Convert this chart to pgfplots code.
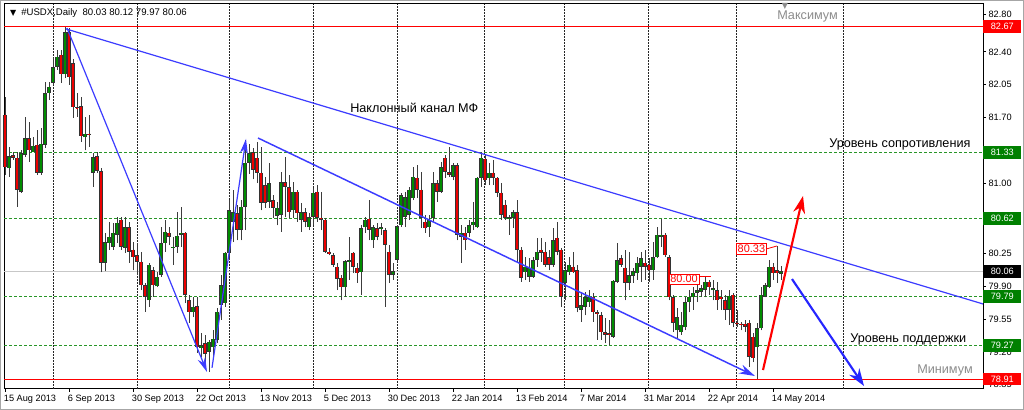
\documentclass[border=0pt]{standalone}
\usepackage{pgfplots}
\pgfplotsset{compat=1.18}
\usepackage{pgfplotstable}
\usepackage{fontspec}
\setmainfont{Liberation Sans}
\newfontfamily\dejavu{DejaVu Sans}
\usetikzlibrary{arrows.meta}

\definecolor{bull}{RGB}{0,140,0}
\definecolor{bear}{RGB}{235,0,0}
\definecolor{lvl}{RGB}{40,150,40}
\definecolor{lvlbox}{RGB}{0,128,0}
\definecolor{chan}{RGB}{60,60,255}
\definecolor{wick}{RGB}{60,60,60}

\pgfplotstableread{
x o h l c
1 81.16 81.39 81.07 81.29
4 80.91 81.35 80.90 81.32
5 81.30 81.71 81.28 81.48
7 81.33 81.49 81.33 81.40
9 81.11 81.59 81.09 81.42
10 81.41 82.08 81.38 81.96
11 81.96 82.08 81.89 82.03
12 82.07 82.34 82.05 82.24
13 82.24 82.42 82.21 82.35
15 82.16 82.67 82.12 82.61
20 81.49 81.71 81.35 81.53
22 81.11 81.32 80.96 81.28
25 80.15 80.47 80.06 80.37
26 80.36 80.59 80.29 80.43
27 80.32 80.58 80.29 80.47
28 80.45 80.64 80.36 80.58
30 80.31 80.64 80.26 80.53
36 79.75 80.15 79.68 80.13
38 79.90 80.05 79.89 80.00
39 80.02 80.53 80.00 80.36
40 80.36 80.61 80.27 80.48
42 80.31 80.43 80.13 80.32
43 80.32 80.69 80.26 80.44
44 80.45 80.75 80.32 80.47
47 79.62 79.79 79.57 79.68
49 79.24 79.40 79.15 79.27
51 79.20 79.33 78.99 79.31
52 79.25 79.43 79.11 79.34
53 79.33 79.67 79.29 79.63
54 79.70 80.02 79.54 79.91
55 79.72 80.27 79.68 80.26
56 80.26 80.82 80.18 80.71
57 80.59 80.93 80.37 80.69
59 80.50 80.82 80.39 80.75
60 80.75 81.46 80.50 81.22
61 81.22 81.42 81.10 81.32
66 80.80 81.22 80.74 81.00
68 80.65 80.80 80.55 80.74
69 80.66 81.12 80.48 81.01
72 80.71 81.01 80.63 80.91
74 80.61 80.79 80.48 80.69
76 80.53 80.68 80.50 80.64
77 80.64 80.95 80.55 80.90
85 79.89 80.18 79.79 80.17
86 80.16 80.43 79.97 80.18
89 80.05 80.55 79.81 80.52
90 80.53 80.64 80.47 80.61
92 80.39 80.55 80.31 80.53
94 80.51 80.58 80.45 80.53
97 80.02 80.15 79.97 80.06
98 80.18 80.55 80.16 80.54
99 80.55 80.90 80.53 80.87
100 80.64 80.91 80.53 80.85
101 80.66 80.96 80.61 80.93
102 80.84 81.17 80.82 81.07
106 80.53 80.66 80.43 80.61
107 80.63 81.12 80.59 81.00
109 80.91 81.23 80.90 81.17
112 81.07 81.22 81.03 81.19
114 80.43 80.55 80.15 80.47
116 80.47 80.61 80.43 80.55
117 80.55 80.80 80.50 80.59
118 80.53 81.07 80.52 81.06
119 81.06 81.33 80.96 81.27
121 81.05 81.22 80.98 81.11
126 80.62 80.66 80.45 80.64
127 80.63 80.71 80.52 80.69
130 80.05 80.21 79.97 80.11
131 80.00 80.20 79.95 80.10
132 80.00 80.21 79.99 80.18
133 80.18 80.42 80.11 80.27
137 80.13 80.52 80.11 80.39
140 79.94 80.16 79.75 80.07
141 80.05 80.21 80.02 80.13
144 79.65 79.83 79.52 79.70
145 79.68 79.84 79.59 79.78
146 79.73 79.86 79.68 79.79
152 79.36 79.97 79.35 79.96
153 79.95 80.36 79.94 80.18
156 79.94 80.27 79.86 80.02
157 80.01 80.10 79.94 80.06
158 80.04 80.21 79.97 80.15
159 80.11 80.27 79.95 80.20
162 80.07 80.37 79.97 80.21
163 80.21 80.53 80.20 80.45
164 80.43 80.62 80.32 80.45
168 79.43 79.67 79.35 79.57
169 79.41 79.63 79.38 79.49
170 79.46 79.78 79.43 79.73
171 79.73 79.86 79.62 79.79
172 79.78 79.89 79.65 79.83
173 79.83 79.95 79.73 79.86
174 79.84 79.91 79.79 79.88
175 79.86 80.00 79.78 79.95
177 79.86 79.97 79.75 79.88
181 79.65 79.86 79.49 79.80
188 79.25 79.51 78.91 79.45
189 79.45 79.89 79.43 79.81
190 79.79 79.94 79.78 79.91
191 79.89 80.18 79.88 80.11
194 80.03 80.12 79.97 80.06
}\bulltab

\pgfplotstableread{
x o h l c
0 81.73 81.92 81.09 81.17
2 81.30 81.33 81.25 81.27
3 81.27 81.33 80.75 80.93
6 81.48 81.65 81.23 81.35
8 81.41 81.57 81.09 81.11
14 82.37 82.42 82.07 82.16
16 82.61 82.66 82.05 82.13
17 82.28 82.32 81.70 81.81
18 81.81 81.96 81.71 81.80
19 81.82 81.92 81.44 81.50
21 81.53 81.73 81.39 81.51
23 81.29 81.33 81.11 81.13
24 81.13 81.16 80.05 80.15
29 80.61 80.64 80.29 80.32
31 80.53 80.59 80.15 80.27
32 80.29 80.37 80.07 80.21
33 80.23 80.36 80.02 80.16
34 80.16 80.27 79.86 79.91
35 79.91 79.94 79.63 79.79
37 80.07 80.11 79.79 79.91
41 80.47 80.53 80.34 80.43
45 80.47 80.48 79.72 79.81
46 79.75 79.81 79.51 79.62
48 79.69 79.79 79.19 79.25
50 79.29 79.38 79.08 79.18
58 80.68 80.77 80.39 80.50
62 81.33 81.38 81.04 81.14
63 81.27 81.44 81.00 81.11
64 81.11 81.39 80.71 80.79
65 80.98 81.07 80.74 80.79
67 80.82 80.87 80.63 80.74
70 81.01 81.28 80.64 80.96
71 80.96 81.09 80.63 80.69
73 80.91 80.93 80.59 80.68
75 80.69 80.74 80.53 80.59
78 80.91 80.98 80.59 80.63
79 80.63 80.91 80.50 80.61
80 80.61 80.63 80.26 80.27
81 80.27 80.31 80.23 80.24
82 80.23 80.26 80.11 80.13
83 80.11 80.15 79.86 79.98
84 79.99 80.02 79.75 79.89
87 80.26 80.27 80.04 80.11
88 80.10 80.15 79.94 80.04
91 80.62 80.82 80.39 80.50
93 80.52 80.58 80.39 80.43
95 80.50 80.52 79.68 80.34
96 80.27 80.34 79.94 80.02
103 81.06 81.19 80.84 80.93
104 80.93 81.12 80.52 80.63
105 80.59 80.66 80.47 80.52
108 81.00 81.03 80.80 80.91
110 81.27 81.30 81.06 81.12
111 81.12 81.39 81.07 81.09
113 81.19 81.22 80.39 80.45
115 80.47 80.53 80.29 80.39
120 81.26 81.30 80.98 81.03
122 81.11 81.25 80.98 81.06
123 81.06 81.07 80.85 80.90
124 80.90 81.00 80.61 80.66
125 80.77 80.82 80.61 80.63
128 80.69 80.82 80.15 80.29
129 80.29 80.32 79.95 79.99
134 80.29 80.42 80.16 80.26
135 80.27 80.37 80.11 80.13
136 80.21 80.29 80.07 80.13
138 80.42 80.59 80.23 80.27
139 80.29 80.31 79.68 79.79
142 80.11 80.27 80.04 80.05
143 80.07 80.13 79.62 79.67
147 79.79 79.83 79.52 79.62
148 79.62 79.65 79.33 79.60
149 79.59 79.62 79.33 79.41
150 79.41 79.56 79.29 79.38
151 79.40 79.54 79.27 79.38
154 80.20 80.23 80.11 80.13
155 80.10 80.29 79.75 79.94
160 80.15 80.29 79.97 80.11
161 80.13 80.20 79.95 80.07
165 80.45 80.47 80.21 80.23
166 80.21 80.23 79.75 79.78
167 79.78 79.81 79.41 79.51
176 79.95 79.97 79.81 79.89
178 79.86 79.95 79.65 79.75
179 79.79 79.86 79.65 79.76
180 79.75 79.81 79.54 79.65
182 79.81 79.83 79.46 79.51
183 79.51 79.65 79.46 79.50
184 79.50 79.52 79.43 79.49
185 79.50 79.54 79.41 79.47
186 79.51 79.54 79.04 79.15
187 79.36 79.40 79.09 79.13
192 80.11 80.15 79.97 80.04
193 80.07 80.33 79.94 80.04
}\beartab

\begin{document}
\begin{tikzpicture}
\useasboundingbox (-3pt,-15.75pt) rectangle (765pt,291.75pt);
\fill[white] (-3pt,-15.75pt) rectangle (765pt,291.75pt);
\draw[black!35, line width=0.75pt] (-2.6pt,-15.35pt) rectangle (764.6pt,291.35pt);
\begin{axis}[
  at={(0pt,0pt)}, anchor=south west,
  scale only axis,
  width=734.25pt, height=288.75pt,
  xmin=-0.25, xmax=244.5,
  ymin=78.8036, ymax=82.912,
  clip=false,
  axis line style={black, line width=0.75pt},
  xtick pos=bottom, ytick pos=right,
  tick align=outside,
  major tick length=2pt,
  major tick style={black, line width=0.75pt},
  xtick={0,16,32,48,64,80,96,112,128,144,160,176,192},
  xticklabels={15 Aug 2013, 6 Sep 2013, 30 Sep 2013, 22 Oct 2013, 13 Nov 2013, 5 Dec 2013, 30 Dec 2013, 22 Jan 2014, 13 Feb 2014, 7 Mar 2014, 31 Mar 2014, 22 Apr 2014, 14 May 2014},
  xticklabel style={anchor=north west, inner sep=0pt, xshift=-1pt, yshift=-2.5pt, font=\fontsize{6.9}{8}\selectfont},
  ytick={78.85,79.20,79.55,79.90,80.25,81.00,81.70,82.05,82.40,82.80},
  yticklabel pos=right,
  /pgf/number format/assume math mode=true,
  yticklabel style={/pgf/number format/.cd, fixed, fixed zerofill, precision=2, /tikz/.cd, anchor=west, inner sep=0pt, xshift=2pt, font=\fontsize{6.9}{8}\selectfont},
  scaled y ticks=false,
]
% period separators
\pgfplotsinvokeforeach{12,33,56,77,98,119.75,139.75,160.75,182.75,209.5}{
  \addplot[black!85, line width=0.75pt, dash pattern=on 1.5pt off 0.75pt] coordinates {(#1,78.8036) (#1,82.912)};
}
% horizontal levels
\addplot[black!22, line width=0.75pt] coordinates {(-0.25,80.06) (244.5,80.06)};
\addplot[lvl, line width=0.75pt, dash pattern=on 2.25pt off 1.5pt] coordinates {(-0.25,81.33) (244.5,81.33)};
\addplot[lvl, line width=0.75pt, dash pattern=on 2.25pt off 1.5pt] coordinates {(-0.25,80.62) (244.5,80.62)};
\addplot[lvl, line width=0.75pt, dash pattern=on 2.25pt off 1.5pt] coordinates {(-0.25,79.79) (244.5,79.79)};
\addplot[lvl, line width=0.75pt, dash pattern=on 2.25pt off 1.5pt] coordinates {(-0.25,79.27) (244.5,79.27)};
\addplot[red, line width=0.75pt] coordinates {(-0.25,82.67) (244.5,82.67)};
\addplot[red, line width=0.75pt] coordinates {(-0.25,78.91) (244.5,78.91)};
% candles: wicks
\addplot[wick, line width=0.75pt, quiver={u=0, v=\thisrow{h}-\thisrow{l}}] table[x=x, y=l] {\bulltab};
\addplot[wick, line width=0.75pt, quiver={u=0, v=\thisrow{h}-\thisrow{l}}] table[x=x, y=l] {\beartab};
% bodies
\addplot[black!80, line width=2.4pt, quiver={u=0, v=\thisrow{c}-\thisrow{o}}] table[x=x, y=o] {\bulltab};
\addplot[black!80, line width=2.4pt, quiver={u=0, v=\thisrow{c}-\thisrow{o}}] table[x=x, y=o] {\beartab};
\addplot[bull, line width=1.0pt, quiver={u=0, v=\thisrow{c}-\thisrow{o}, every arrow/.append style={shorten <=0.45pt, shorten >=0.45pt}}] table[x=x, y=o] {\bulltab};
\addplot[bear, line width=1.0pt, quiver={u=0, v=\thisrow{c}-\thisrow{o}, every arrow/.append style={shorten <=0.45pt, shorten >=0.45pt}}] table[x=x, y=o] {\beartab};
% trend lines and arrows
\addplot[chan, line width=0.9pt] coordinates {(15.25,82.646) (244.5,79.711)};
\addplot[chan, line width=1.1pt, -{Stealth[length=12pt, width=7pt]}] coordinates {(63.25,81.482) (187.5,78.942)};
\addplot[chan, line width=0.9pt, -{Stealth[length=11pt, width=6pt]}] coordinates {(15.5,82.656) (50.5,78.985)};
\addplot[chan, line width=0.9pt, -{Stealth[length=11pt, width=6pt]}] coordinates {(51.75,79.03) (60.25,81.472)};
\addplot[red, line width=1.6pt, -{Stealth[length=13pt, width=9pt]}] coordinates {(189.5,79.006) (199.5,80.863)};
\addplot[blue!85!white, line width=1.6pt, -{Stealth[length=13pt, width=9pt]}] coordinates {(196.75,79.977) (214.75,78.836)};
% price labels on chart
\addplot[red, line width=0.6pt] coordinates {(190.5,80.30) (193,80.33)};
\addplot[red, line width=0.6pt] coordinates {(173.5,80.00) (176.5,80.00)};
\node[anchor=west, draw=red, fill=white, text=red, line width=0.6pt, inner sep=1pt, font=\fontsize{8.2}{9}\selectfont] at (axis cs:182.75,80.30) {80.33};
\node[anchor=west, draw=red, fill=white, text=red, line width=0.6pt, inner sep=1pt, font=\fontsize{8.2}{9}\selectfont] at (axis cs:165.9,79.975) {80.00};
% annotations
\node[anchor=west, inner sep=0pt, font=\dejavu\fontsize{6}{7}\selectfont] at (axis cs:1.2,82.815) {▼};
\node[anchor=west, inner sep=0pt, font=\fontsize{7.2}{8}\selectfont] at (axis cs:4.0,82.815) {\#USDX,Daily\ \ 80.03 80.12 79.97 80.06};
\node[anchor=west, inner sep=0pt, font=\fontsize{9.5}{11}\selectfont] at (axis cs:86.25,81.802) {Наклонный канал МФ};
\node[anchor=west, inner sep=0pt, font=\fontsize{9.5}{11}\selectfont] at (axis cs:206,81.408) {Уровень сопротивления};
\node[anchor=west, inner sep=0pt, font=\fontsize{9.5}{11}\selectfont] at (axis cs:211.25,79.337) {Уровень поддержки};
\node[anchor=west, inner sep=0pt, text=black!45, font=\fontsize{9.5}{11}\selectfont] at (axis cs:193,82.784) {Максимум};
\node[anchor=center, inner sep=0pt, text=black!45, font=\dejavu\fontsize{6}{7}\selectfont] at (axis cs:195,82.885) {▼};
\node[anchor=west, inner sep=0pt, text=black!45, font=\fontsize{9.5}{11}\selectfont] at (axis cs:228,79.006) {Минимум};
% right-hand price boxes
\pgfplotsforeachungrouped \v/\c in {82.67/red, 81.33/lvlbox, 80.62/lvlbox, 80.06/black, 79.79/lvlbox, 79.27/lvlbox, 78.91/red}{
  \edef\tmp{\noexpand\node[anchor=west, fill=\c, text=white, inner sep=0pt, minimum width=28.5pt, minimum height=9.5pt, font=\noexpand\fontsize{6.9}{8}\noexpand\selectfont] at (axis cs:244.5,\v) {\v};}
  \tmp
}
\end{axis}
\end{tikzpicture}
\end{document}
